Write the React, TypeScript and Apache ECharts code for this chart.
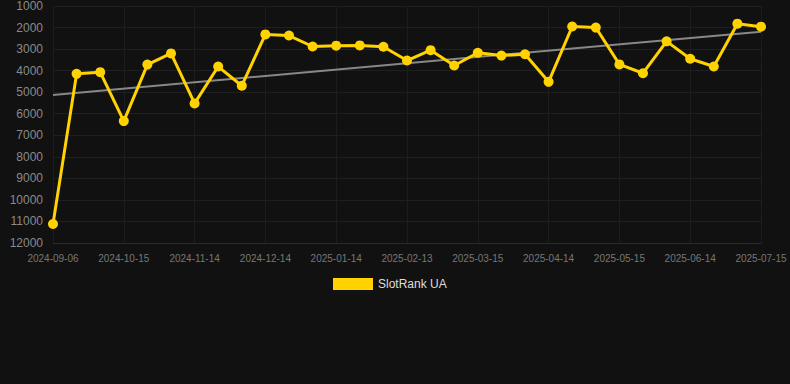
import React, { useEffect, useRef } from "react";
import * as echarts from "echarts";

const categories = [
  "2024-09-06", "2024-09-19", "2024-10-02", "2024-10-15", "2024-10-25", "2024-11-04",
  "2024-11-14", "2024-11-24", "2024-12-04", "2024-12-14", "2024-12-24", "2025-01-04",
  "2025-01-14", "2025-01-24", "2025-02-03", "2025-02-13", "2025-02-23", "2025-03-05",
  "2025-03-15", "2025-03-25", "2025-04-04", "2025-04-14", "2025-04-24", "2025-05-05",
  "2025-05-15", "2025-05-25", "2025-06-04", "2025-06-14", "2025-06-24", "2025-07-05",
  "2025-07-15",
];

const rankValues = [
  11120, 4150, 4070, 6340, 3720, 3200, 5520, 3810, 4700, 2320,
  2370, 2880, 2840, 2830, 2890, 3530, 3050, 3760, 3170, 3300,
  3240, 4520, 1950, 2000, 3710, 4120, 2640, 3450, 3810, 1820,
  1960,
];

const trendStart = 5130;
const trendEnd = 2190;

const yTicks = { min: 1000, max: 12000, interval: 1000 };

export default function App() {
  const ref = useRef<HTMLDivElement>(null);

  useEffect(() => {
    document.body.style.margin = "0";
    document.body.style.background = "#111111";
    if (!ref.current) return;
    const chart = echarts.init(ref.current, null, { renderer: "svg" });
    const trendData = categories.map((_, i) =>
      i === 0 ? trendStart : i === categories.length - 1 ? trendEnd : null
    );
    chart.setOption({
      animation: false,
      backgroundColor: "#111111",
      grid: { left: 53, right: 29, top: 6, bottom: 141, containLabel: false },
      legend: {
        data: ["SlotRank UA"],
        top: 273,
        left: 328,
        itemWidth: 40,
        itemHeight: 12,
        itemGap: 10,
        icon: "rect",
        textStyle: { color: "#dddddd", fontSize: 12, fontFamily: "Arial, Liberation Sans, sans-serif" },
      },
      xAxis: {
        type: "category",
        data: categories,
        boundaryGap: false,
        axisLine: { show: true, lineStyle: { color: "#2a2a2a" } },
        axisTick: { show: false },
        axisLabel: {
          interval: 2,
          color: "#777777",
          fontSize: 10,
          margin: 10,
          fontFamily: "Arial, Liberation Sans, sans-serif",
        },
        splitLine: { show: true, interval: 2, lineStyle: { color: "#1d1d1d", width: 1 } },
      },
      yAxis: {
        type: "value",
        inverse: true,
        min: yTicks.min,
        max: yTicks.max,
        interval: yTicks.interval,
        axisLine: { show: false },
        axisTick: { show: false },
        axisLabel: {
          color: "#8a8a8a",
          fontSize: 12,
          margin: 10,
          formatter: (v: number) => String(v),
          fontFamily: "Arial, Liberation Sans, sans-serif",
        },
        splitLine: { show: true, lineStyle: { color: "#1f1f1f", width: 1 } },
      },
      series: [
        {
          name: "Trend",
          type: "line",
          data: trendData,
          connectNulls: true,
          showSymbol: false,
          symbol: "none",
          lineStyle: { color: "#888888", width: 2 },
          itemStyle: { color: "#888888" },
          silent: true,
          z: 1,
        },
        {
          name: "SlotRank UA",
          type: "line",
          data: rankValues,
          symbol: "circle",
          symbolSize: 10,
          lineStyle: { color: "#FFD200", width: 3 },
          itemStyle: { color: "#FFD200" },
          z: 2,
        },
      ],
    });
    return () => chart.dispose();
  }, []);

  return <div ref={ref} style={{ width: 790, height: 384, background: "#111111" }} />;
}
